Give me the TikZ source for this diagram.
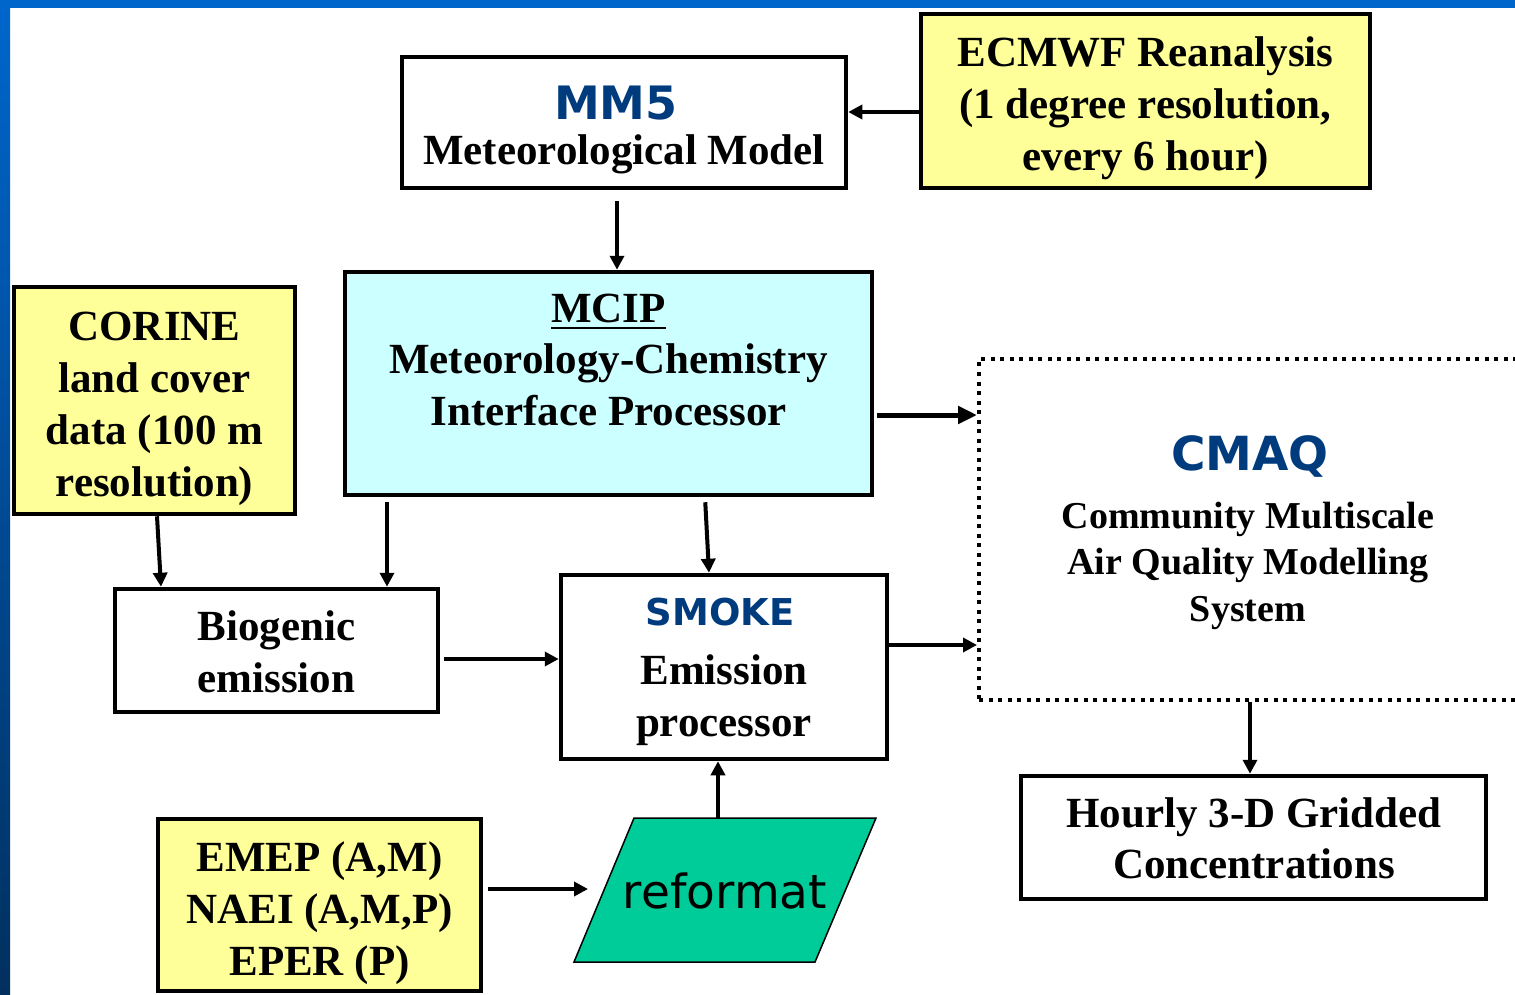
\documentclass[tikz,border=0pt]{standalone}
\usepackage{fontspec}
\setmainfont{Liberation Serif}
\newfontfamily\verd{DejaVu Sans}
\usetikzlibrary{arrows.meta}
\definecolor{yel}{HTML}{FFFF99}
\definecolor{cya}{HTML}{CCFFFF}
\definecolor{grn}{HTML}{00CC99}
\definecolor{dblue}{HTML}{003C7D}
\definecolor{slidetop}{HTML}{0066CC}
\definecolor{slidebot}{HTML}{00305F}
\begin{document}
\begin{tikzpicture}[x=1pt,y=-1pt,
  box/.style={draw=black,line width=4.5pt,rectangle,inner sep=0pt},
  txt/.style={inner sep=0pt,align=center,font=\bfseries\fontsize{43}{52}\selectfont},
  ttl/.style={inner sep=0pt,text=dblue,font=\verd\bfseries\fontsize{46}{50}\selectfont},
  arr/.style={line width=4pt,-{Triangle[length=14pt,width=14pt]}},
  bigarr/.style={line width=5pt,-{Triangle[length=19pt,width=17pt]}}]
\useasboundingbox (0,0) rectangle (1515,995);
\fill[white] (0,0) rectangle (1515,995);
\shade[top color=slidetop,bottom color=slidebot] (0,0) rectangle (10,995);
\fill[slidetop] (0,0) rectangle (1515,8);

% boxes
\node[box,fill=white,minimum width=444pt,minimum height=131pt] (mm5) at (624,122.5) {};
\node[box,fill=yel,minimum width=449pt,minimum height=174pt] (ecmwf) at (1145.5,101) {};
\node[box,fill=cya,minimum width=527pt,minimum height=223pt] (mcip) at (608.5,383.5) {};
\node[box,fill=yel,minimum width=281pt,minimum height=227pt] (corine) at (154.5,400.5) {};
\node[box,fill=white,minimum width=323pt,minimum height=123pt] (bio) at (276.5,650.5) {};
\node[box,fill=white,minimum width=326pt,minimum height=184pt] (smoke) at (724,667) {};
\node[box,draw=black,line width=4pt,dash pattern=on 4pt off 5.5pt,minimum width=621pt,minimum height=341pt] (cmaq) at (1289.5,529.5) {};
\node[box,fill=white,minimum width=465pt,minimum height=123pt] (hourly) at (1253.5,837.5) {};
\node[box,fill=yel,minimum width=323pt,minimum height=172pt] (emep) at (319.5,905) {};
\coordinate (pA) at (574,962);
\coordinate (pB) at (634,818);
\coordinate (pC) at (876,818);
\coordinate (pD) at (815,962);
\fill[grn,draw=black,line width=1.5pt] (pA) -- (pB) -- (pC) -- (pD) -- cycle;

% texts (anchor=base is the baseline of the last line)
\node[ttl,anchor=base] (tmm5) at (616,120) {MM5};
\node[txt,anchor=base] (tmm5b) at (624,165) {Meteorological Model};
\node[txt,anchor=base] (tecmwf) at (1145.5,171) {ECMWF Reanalysis\\(1 degree resolution,\\every 6 hour)};
\node[txt,anchor=base] (tmcip) at (608.5,322) {MCIP};
\draw[line width=2.5pt] ([yshift=-6pt]tmcip.base west) -- ([yshift=-6pt]tmcip.base east);
\node[txt,anchor=base] (tmcipb) at (608.5,425) {Meteorology-Chemistry\\Interface Processor};
\node[txt,anchor=base] (tcorine) at (154.5,496) {CORINE\\land cover\\data (100 m\\resolution)};
\node[txt,anchor=base] (tbio) at (276.5,692) {Biogenic\\emission};
\node[ttl,anchor=base,font=\verd\bfseries\fontsize{37}{40}\selectfont] (tsmoke) at (720,625) {SMOKE};
\node[txt,anchor=base] (tsmokeb) at (724,736) {Emission\\processor};
\node[ttl,anchor=base,font=\verd\bfseries\fontsize{47}{50}\selectfont] (tcmaq) at (1250,470) {CMAQ};
\node[txt,anchor=base,font=\bfseries\fontsize{38}{46.5}\selectfont] (tcmaqb) at (1248,621) {Community Multiscale\\Air Quality Modelling\\System};
\node[txt,anchor=base,font=\bfseries\fontsize{43}{51}\selectfont] (thourly) at (1254,878) {Hourly 3-D Gridded\\Concentrations};
\node[txt,anchor=base] (temep) at (319.5,975) {EMEP (A,M)\\NAEI (A,M,P)\\EPER (P)};
\node[inner sep=0pt,anchor=base,font=\verd\fontsize{47}{50}\selectfont] (tref) at (725,908) {reformat};
\coordinate (refin) at (588,889);
\coordinate (reftop) at (718,818);

% connectors
\draw[arr] ([yshift=-11pt]ecmwf.west) -- ([yshift=-11pt]ecmwf.west -| mm5.east);
\draw[arr,shorten <=11pt] ([xshift=-7pt]mm5.south) -- ([xshift=-7pt]mm5.south |- mcip.north);
\draw[bigarr,shorten <=3pt] ([yshift=-31.5pt]mcip.east) -- ([yshift=-31.5pt]mcip.east -| cmaq.west);
\draw[arr] ([xshift=2.5pt]corine.south) -- ([xshift=-115.5pt]bio.north);
\draw[arr,shorten <=5pt] ([xshift=-221.5pt]mcip.south) -- ([xshift=-221.5pt]mcip.south |- bio.north);
\draw[arr,shorten <=5pt] ([xshift=96.5pt]mcip.south) -- ([xshift=-15pt]smoke.north);
\draw[arr,shorten <=4pt] ([yshift=-8.5pt]bio.east) -- ([yshift=-8.5pt]bio.east -| smoke.west);
\draw[arr] ([yshift=22pt]smoke.east) -- ([yshift=22pt]smoke.east -| cmaq.west);
\draw[arr] ([xshift=-39.5pt]cmaq.south) -- ([xshift=-39.5pt]cmaq.south |- hourly.north);
\draw[arr,shorten <=5pt] ([yshift=16pt]emep.east) -- (refin);
\draw[arr] (reftop) -- (reftop |- smoke.south);
\end{tikzpicture}
\end{document}
